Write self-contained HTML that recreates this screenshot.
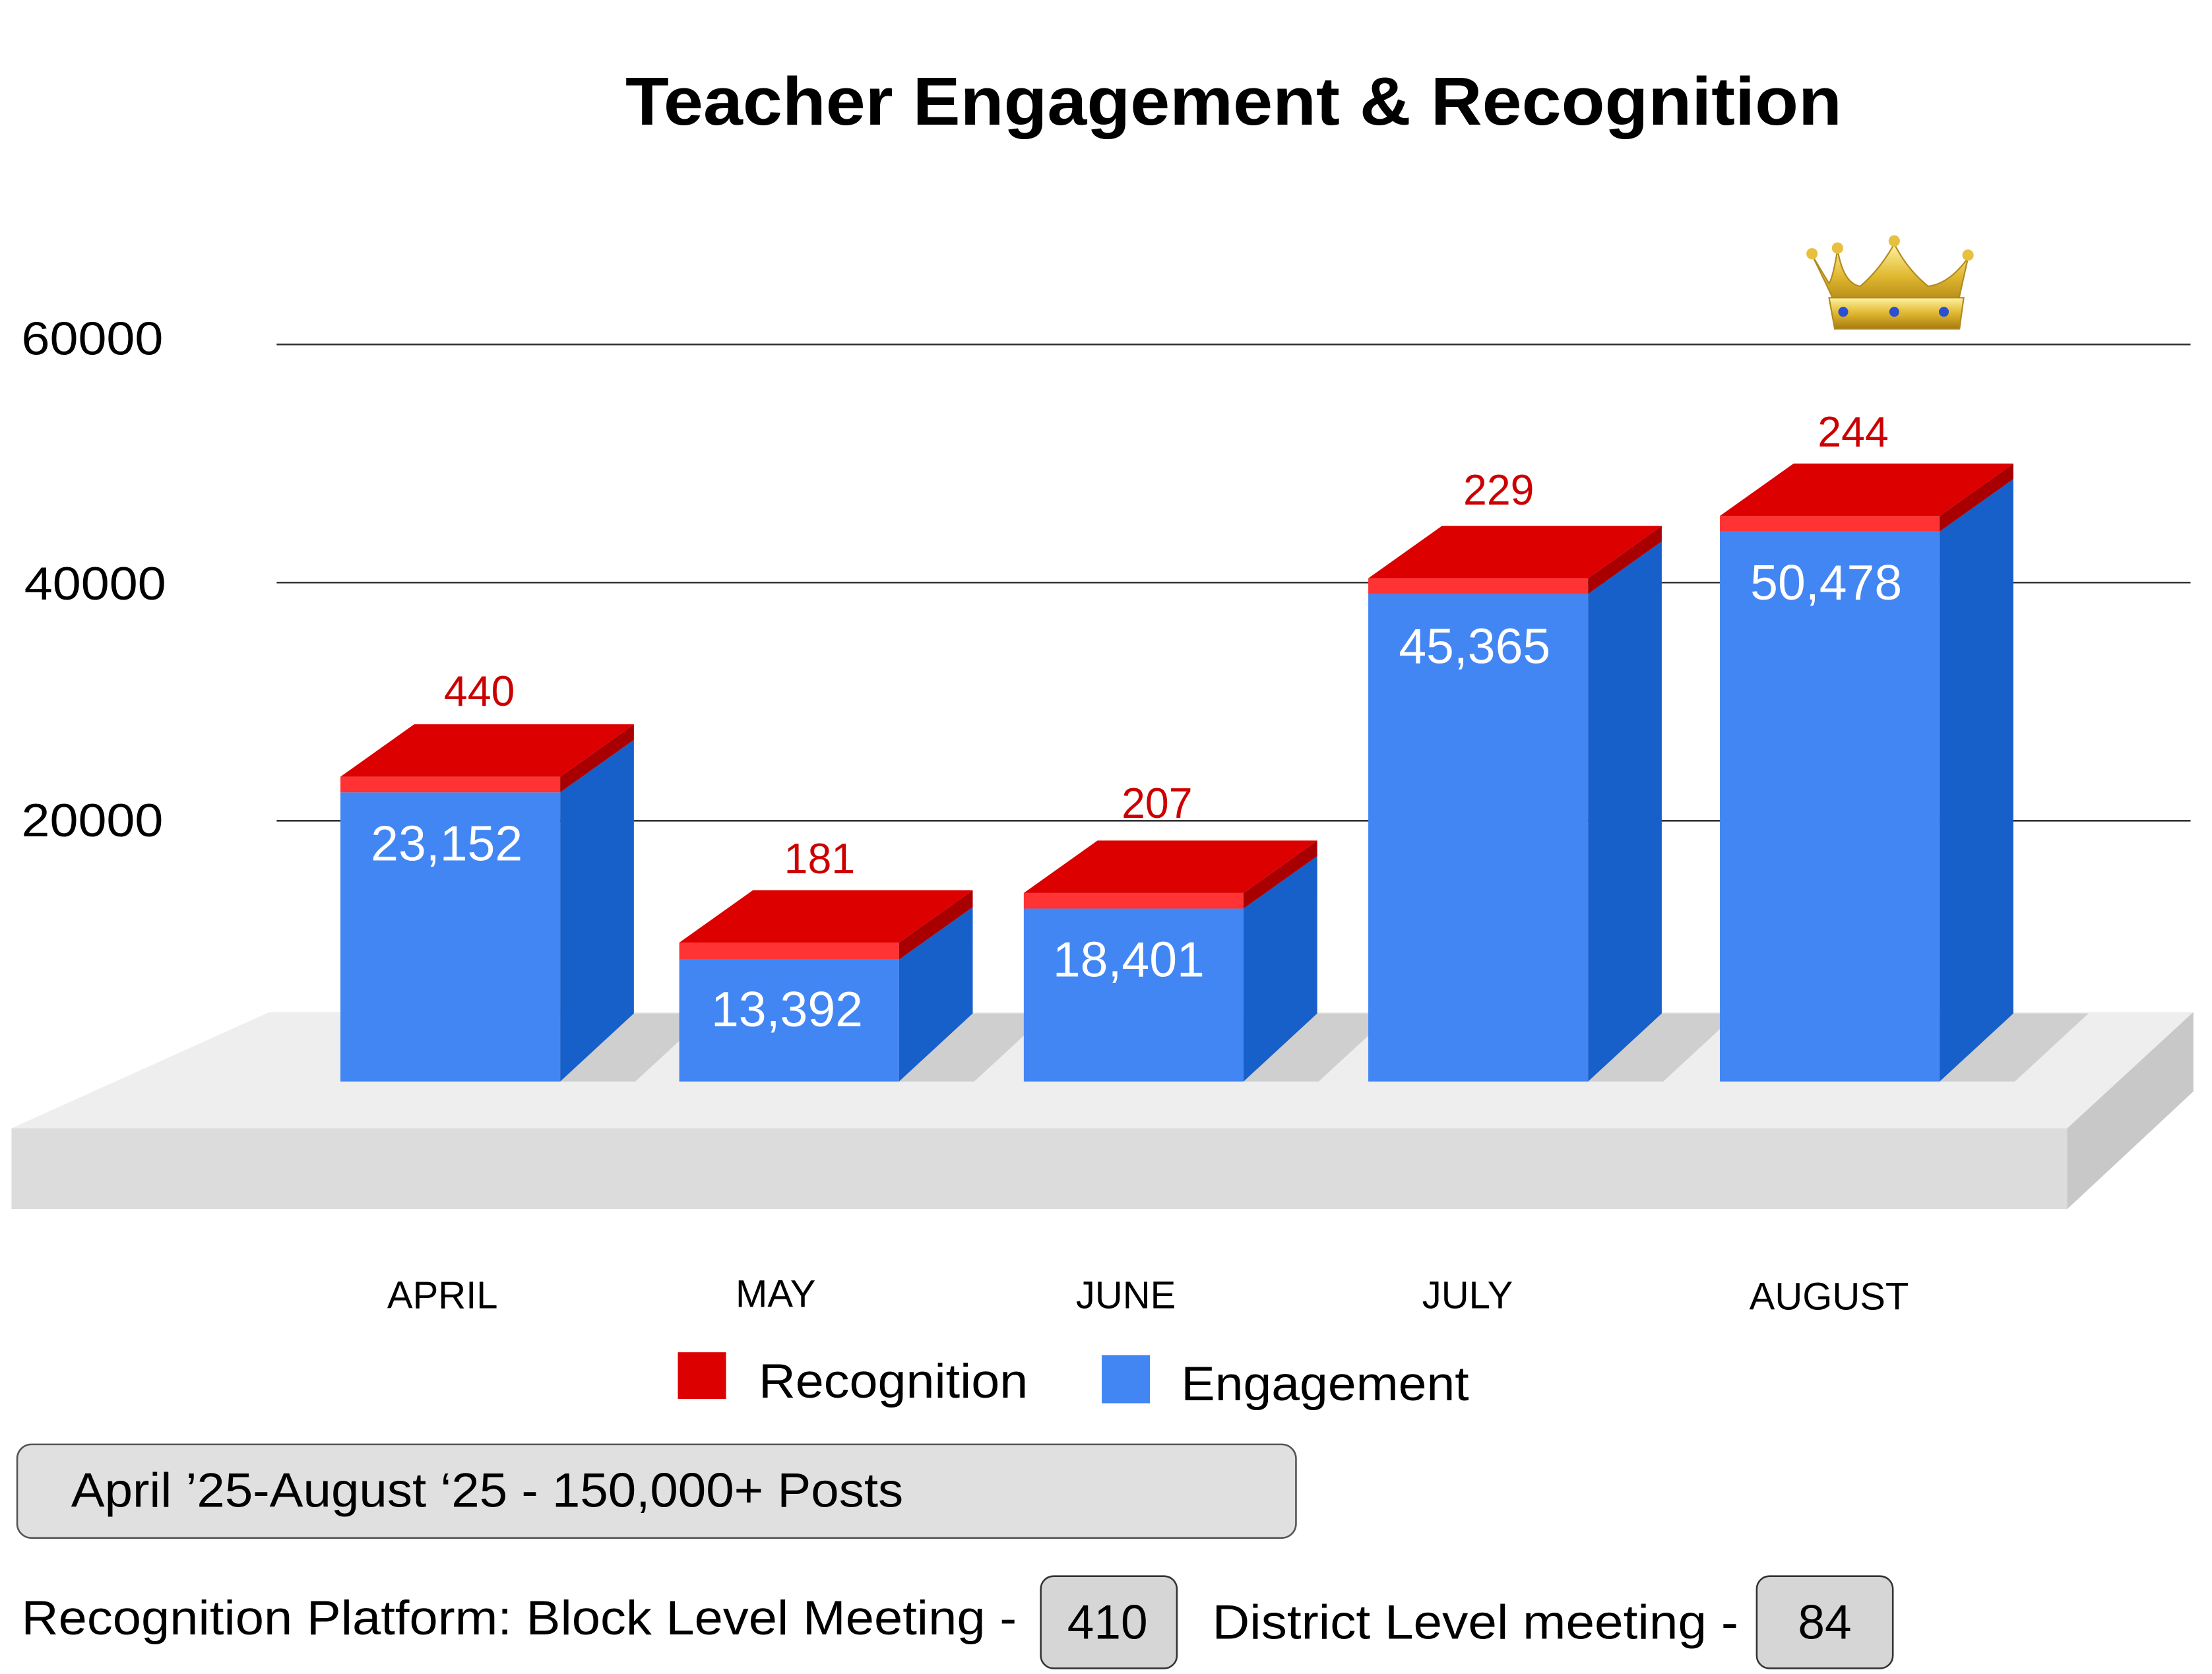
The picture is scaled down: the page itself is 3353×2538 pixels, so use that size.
<!DOCTYPE html>
<html><head><meta charset="utf-8"><style>
html,body{margin:0;padding:0;background:#fff;}
svg{display:block;}
text{font-family:"Liberation Sans",sans-serif;}
</style></head><body>
<svg width="3353" height="2538" viewBox="0 0 1560 1181" xmlns="http://www.w3.org/2000/svg">
<defs>
<linearGradient id="gold" x1="0" y1="0" x2="0" y2="1">
<stop offset="0" stop-color="#fff2a0"/><stop offset="0.5" stop-color="#e0b830"/><stop offset="1" stop-color="#a87a10"/>
</linearGradient>
</defs>
<rect width="1560" height="1181" fill="#fff"/>
<text x="441" y="88" font-size="48" font-weight="bold" fill="#000" textLength="858" lengthAdjust="spacingAndGlyphs">Teacher Engagement &amp; Recognition</text>
<g font-size="33" fill="#000">
<text x="15" y="250" textLength="100" lengthAdjust="spacingAndGlyphs">60000</text>
<text x="17" y="423" textLength="100" lengthAdjust="spacingAndGlyphs">40000</text>
<text x="15" y="590" textLength="100" lengthAdjust="spacingAndGlyphs">20000</text>
</g>
<g stroke="#333" stroke-width="1.2">
<line x1="195" y1="243" x2="1545" y2="243"/>
<line x1="195" y1="411" x2="1545" y2="411"/>
<line x1="195" y1="579" x2="1545" y2="579"/>
</g>
<g transform="translate(0,-3)">
<polygon points="190,717 1547,717 1458,799 8,799" fill="#eeeeee"/>
<rect x="8" y="799" width="1450" height="57" fill="#dcdcdc"/>
<polygon points="1458,799 1547,717 1547,773 1458,856" fill="#c8c8c8"/>
</g>
<g fill="#cfcfcf">
<polygon points="395,763 447,715 500,715 448,763"/>
<polygon points="634,763 686,715 739,715 687,763"/>
<polygon points="877,763 929,715 982,715 930,763"/>
<polygon points="1120,763 1172,715 1225,715 1173,763"/>
<polygon points="1368,763 1420,715 1473,715 1421,763"/>
</g>
<g>
<polygon points="395,559 447,522 447,715 395,763" fill="#175fc9"/>
<rect x="240" y="559" width="155" height="204" fill="#4286f4"/>
<rect x="240" y="548" width="155" height="11" fill="#ff3333"/>
<polygon points="395,548 447,511 447,522 395,559" fill="#a80000"/>
<polygon points="240,548 395,548 447,511 292,511" fill="#dc0000"/>
<polygon points="634,677 686,640 686,715 634,763" fill="#175fc9"/>
<rect x="479" y="677" width="155" height="86" fill="#4286f4"/>
<rect x="479" y="665" width="155" height="12" fill="#ff3333"/>
<polygon points="634,665 686,628 686,640 634,677" fill="#a80000"/>
<polygon points="479,665 634,665 686,628 531,628" fill="#dc0000"/>
<polygon points="877,641 929,604 929,715 877,763" fill="#175fc9"/>
<rect x="722" y="641" width="155" height="122" fill="#4286f4"/>
<rect x="722" y="630" width="155" height="11" fill="#ff3333"/>
<polygon points="877,630 929,593 929,604 877,641" fill="#a80000"/>
<polygon points="722,630 877,630 929,593 774,593" fill="#dc0000"/>
<polygon points="1120,419 1172,382 1172,715 1120,763" fill="#175fc9"/>
<rect x="965" y="419" width="155" height="344" fill="#4286f4"/>
<rect x="965" y="408" width="155" height="11" fill="#ff3333"/>
<polygon points="1120,408 1172,371 1172,382 1120,419" fill="#a80000"/>
<polygon points="965,408 1120,408 1172,371 1017,371" fill="#dc0000"/>
<polygon points="1368,375 1420,338 1420,715 1368,763" fill="#175fc9"/>
<rect x="1213" y="375" width="155" height="388" fill="#4286f4"/>
<rect x="1213" y="364" width="155" height="11" fill="#ff3333"/>
<polygon points="1368,364 1420,327 1420,338 1368,375" fill="#a80000"/>
<polygon points="1213,364 1368,364 1420,327 1265,327" fill="#dc0000"/>
</g>
<g font-size="30" fill="#cc0000" text-anchor="middle">
<text x="338" y="498">440</text>
<text x="578" y="616">181</text>
<text x="816" y="577">207</text>
<text x="1057" y="356">229</text>
<text x="1307" y="315">244</text>
</g>
<g font-size="35" fill="#fff" text-anchor="middle">
<text x="315" y="607">23,152</text>
<text x="555" y="724">13,392</text>
<text x="796" y="689">18,401</text>
<text x="1040" y="468">45,365</text>
<text x="1288" y="423">50,478</text>
</g>
<g font-size="27" fill="#000" text-anchor="middle">
<text x="312" y="923">APRIL</text>
<text x="547" y="922">MAY</text>
<text x="794" y="923">JUNE</text>
<text x="1035" y="923">JULY</text>
<text x="1290" y="924">AUGUST</text>
</g>
<rect x="478" y="954" width="34" height="33" fill="#dc0000"/>
<text x="535" y="986" font-size="34" fill="#000" textLength="190" lengthAdjust="spacingAndGlyphs">Recognition</text>
<rect x="777" y="956" width="34" height="34" fill="#4286f4"/>
<text x="833" y="988" font-size="34" fill="#000" textLength="203" lengthAdjust="spacingAndGlyphs">Engagement</text>
<rect x="12" y="1019" width="902" height="66" rx="10" fill="#e0e0e0" stroke="#555" stroke-width="1.2"/>
<text x="50" y="1063" font-size="34" fill="#000" textLength="587" lengthAdjust="spacingAndGlyphs">April ’25-August ‘25 - 150,000+ Posts</text>
<text x="15" y="1153" font-size="34" fill="#000" textLength="702" lengthAdjust="spacingAndGlyphs">Recognition Platform: Block Level Meeting -</text>
<rect x="734" y="1112" width="96" height="65" rx="9" fill="#d6d6d6" stroke="#333" stroke-width="1.2"/>
<text x="781" y="1156" font-size="34" fill="#000" text-anchor="middle">410</text>
<text x="855" y="1156" font-size="34" fill="#000" textLength="371" lengthAdjust="spacingAndGlyphs">District Level meeting -</text>
<rect x="1239" y="1112" width="96" height="65" rx="9" fill="#d6d6d6" stroke="#333" stroke-width="1.2"/>
<text x="1287" y="1156" font-size="34" fill="#000" text-anchor="middle">84</text>
<g>
<path d="M1278,180 Q1288,200 1296,218 L1380,218 Q1384,200 1388,182 Q1375,200 1360,202 Q1345,190 1336,172 Q1326,190 1312,202 Q1300,200 1296,176 Q1293,195 1290,200 Z" fill="url(#gold)" stroke="#b08a20" stroke-width="1"/>
<path d="M1290,210 L1385,210 L1382,232 L1294,232 Z" fill="url(#gold)" stroke="#b08a20" stroke-width="1"/>
<circle cx="1278" cy="179" r="4" fill="#e8c040"/>
<circle cx="1296" cy="175" r="4" fill="#e8c040"/>
<circle cx="1336" cy="170" r="4" fill="#e8c040"/>
<circle cx="1388" cy="180" r="4" fill="#e8c040"/>
<circle cx="1300" cy="220" r="3.5" fill="#2a4fd0"/>
<circle cx="1336" cy="220" r="3.5" fill="#2a4fd0"/>
<circle cx="1371" cy="220" r="3.5" fill="#2a4fd0"/>
</g>
</svg>
</body></html>
